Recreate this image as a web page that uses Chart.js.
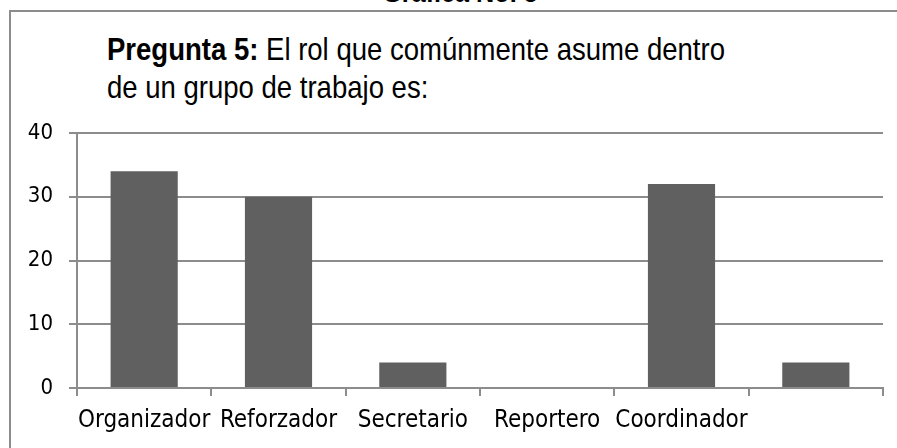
<!DOCTYPE html>
<html>
<head>
<meta charset="utf-8">
<script src="https://cdn.jsdelivr.net/npm/chart.js@4.4.1/dist/chart.umd.min.js"></script>
<style>
    html, body { margin: 0; padding: 0; background: #fff; }
    #wrap { position: relative; width: 897px; height: 448px; overflow: hidden; }
    #frame { position: absolute; left: 9px; top: 10px; width: 900px; height: 460px; border: 2px solid #8c8c8c; box-sizing: border-box; }
    #caption { position: absolute; left: 0; width: 920px; top: -23px; text-align: center; font: bold 28px "Liberation Sans", Arial, sans-serif; color: #000; transform: scaleX(0.9); transform-origin: 460px 0; }
    #title { position: absolute; left: 107px; top: 30px; font: 32px "Liberation Sans Narrow", "Liberation Sans", Arial, sans-serif; line-height: 38px; color: #000; white-space: nowrap; transform: scaleX(0.86); transform-origin: 0 0; }
    #chart { position: absolute; left: 0; top: 0; }
</style>
</head>
<body>
<div id="wrap">
    <div id="caption">Gráfica No. 5</div>
    <div id="frame"></div>
    <div id="title"><b>Pregunta 5:</b> El rol que comúnmente asume dentro<br>de un grupo de trabajo es:</div>
    <canvas id="chart" width="897" height="448"></canvas>
</div>
<script>
// datos de la gráfica
const categorias = ["Organizador", "Reforzador", "Secretario", "Reportero", "Coordinador", ""];
const respuestas = [34, 30, 4, 0, 32, 4];
const ticksY = [0, 10, 20, 30, 40];

const fuenteEje = "'DejaVu Sans Condensed', 'DejaVu Sans', sans-serif";

const ctx = document.getElementById("chart");
const myChart = new Chart(ctx, {
    type: "bar",
    data: {
        labels: categorias,
        datasets: [{
            label: "Pregunta 5",
            data: respuestas,
            backgroundColor: "#606060",
            borderWidth: 0,
            categoryPercentage: 1.0,
            barPercentage: 0.5
        }]
    },
    options: {
        responsive: false,
        animation: false,
        layout: { padding: { top: 133, right: 14, left: 0, bottom: 0 } },
        plugins: {
            legend: { display: false },
            tooltip: { enabled: false }
        },
        scales: {
            x: {
                grid: {
                    offset: true,
                    drawOnChartArea: false,
                    drawTicks: true,
                    tickLength: 8,
                    color: "#8c8c8c",
                    lineWidth: 2
                },
                border: { color: "#8c8c8c", width: 2 },
                ticks: {
                    color: "#000",
                    padding: 10,
                    maxRotation: 0,
                    autoSkip: false,
                    font: { family: fuenteEje, size: 24 }
                },
                afterFit: scale => { scale.height = 60; }
            },
            y: {
                min: ticksY[0],
                max: ticksY[ticksY.length - 1],
                afterBuildTicks: scale => { scale.ticks = ticksY.map(v => ({ value: v })); },
                grid: {
                    color: "#8c8c8c",
                    lineWidth: 2,
                    tickLength: 8
                },
                border: { color: "#8c8c8c", width: 2 },
                ticks: {
                    color: "#000",
                    padding: 16,
                    font: { family: fuenteEje, size: 22 }
                },
                afterFit: scale => { scale.width = 77; }
            }
        }
    }
});
</script>
</body>
</html>
